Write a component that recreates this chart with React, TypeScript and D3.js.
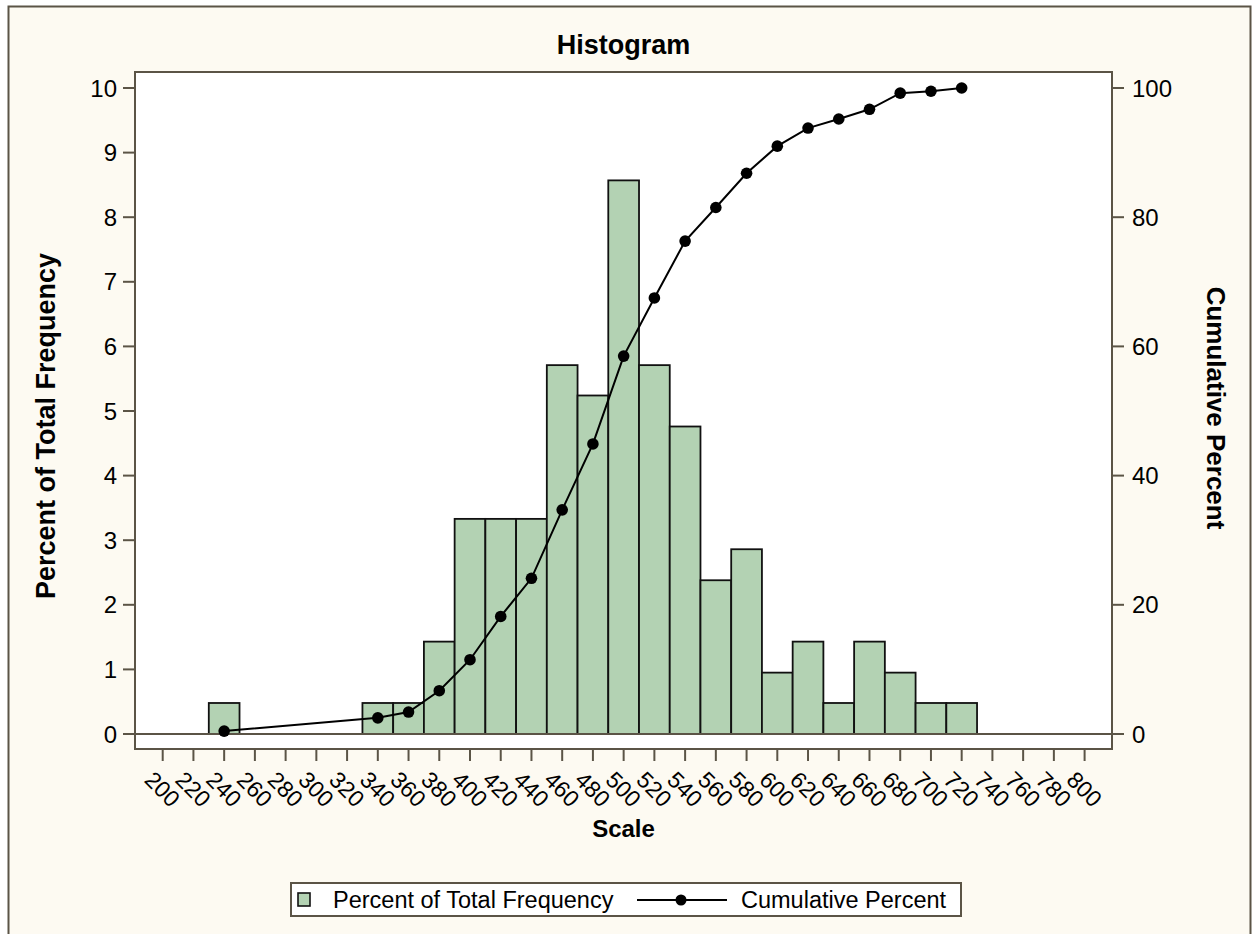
import React from "react";
import * as d3 from "d3";

const binCenters = [240, 340, 360, 380, 400, 420, 440, 460, 480, 500, 520, 540, 560, 580, 600, 620, 640, 660, 680, 700, 720];
const percentValues = [0.48, 0.48, 0.48, 1.43, 3.33, 3.33, 3.33, 5.71, 5.24, 8.57, 5.71, 4.76, 2.38, 2.86, 0.95, 1.43, 0.48, 1.43, 0.95, 0.48, 0.48];
const cumulativeValues = [0.45, 2.5, 3.4, 6.7, 11.5, 18.2, 24.1, 34.7, 44.9, 58.5, 67.5, 76.3, 81.5, 86.8, 91.0, 93.8, 95.2, 96.7, 99.2, 99.5, 100];
const xTicks = d3.range(200, 801, 20);
const leftTicks = [0, 1, 2, 3, 4, 5, 6, 7, 8, 9, 10];
const rightTicks = [0, 20, 40, 60, 80, 100];
const binWidth = 20;

const FONT = "'Liberation Sans', Arial, Helvetica, sans-serif";
const AXIS = "#5b5446";

export default function App() {
  const plot = { left: 135, top: 72, right: 1112, bottom: 749 };
  const x = d3.scaleLinear().domain([200, 800]).range([162.7, 1084.6]);
  const yL = d3.scaleLinear().domain([0, 10]).range([734, 88]);
  const yR = d3.scaleLinear().domain([0, 100]).range([734, 88]);
  const line = d3
    .line<number>()
    .x((_, i) => x(binCenters[i]))
    .y((d) => yR(d));
  const cx = (plot.left + plot.right) / 2;

  return (
    <svg
      width={1252}
      height={934}
      style={{ position: "absolute", left: 0, top: 0 }}
      fontFamily={FONT}
    >
      <rect x={8.5} y={6.5} width={1242} height={940} fill="#fdfaf2" stroke={AXIS} strokeWidth={2} />
      <text x={cx} y={54} textAnchor="middle" fontSize={27} fontWeight="bold" fill="#000">
        Histogram
      </text>
      <rect
        x={plot.left}
        y={plot.top}
        width={plot.right - plot.left}
        height={plot.bottom - plot.top}
        fill="#fff"
        stroke="none"
      />
      {binCenters.map((c, i) => (
        <rect
          key={c}
          x={x(c - binWidth / 2)}
          y={yL(percentValues[i])}
          width={x(c + binWidth / 2) - x(c - binWidth / 2)}
          height={yL(0) - yL(percentValues[i])}
          fill="#b3d2b3"
          stroke="#111"
          strokeWidth={1.8}
        />
      ))}
      <line x1={plot.left - 12} x2={plot.right + 12} y1={yL(0)} y2={yL(0)} stroke={AXIS} strokeWidth={2} />
      <rect
        x={plot.left}
        y={plot.top}
        width={plot.right - plot.left}
        height={plot.bottom - plot.top}
        fill="none"
        stroke={AXIS}
        strokeWidth={2}
      />
      <path d={line(cumulativeValues) || ""} fill="none" stroke="#000" strokeWidth={2} />
      {cumulativeValues.map((v, i) => (
        <circle key={i} cx={x(binCenters[i])} cy={yR(v)} r={5.8} fill="#000" />
      ))}
      {leftTicks.map((t) => (
        <g key={"l" + t}>
          <line x1={plot.left - 12} x2={plot.left} y1={yL(t)} y2={yL(t)} stroke={AXIS} strokeWidth={2} />
          <text x={117} y={yL(t)} dy="0.36em" textAnchor="end" fontSize={24} fill="#000">
            {t}
          </text>
        </g>
      ))}
      {rightTicks.map((t) => (
        <g key={"r" + t}>
          <line x1={plot.right} x2={plot.right + 12} y1={yR(t)} y2={yR(t)} stroke={AXIS} strokeWidth={2} />
          <text x={1132} y={yR(t)} dy="0.36em" textAnchor="start" fontSize={24} fill="#000">
            {t}
          </text>
        </g>
      ))}
      {xTicks.map((t) => (
        <g key={"x" + t}>
          <line x1={x(t)} x2={x(t)} y1={plot.bottom} y2={plot.bottom + 12} stroke={AXIS} strokeWidth={2} />
          <text
            transform={`translate(${x(t)},789) rotate(45)`}
            textAnchor="middle"
            dy="0.36em"
            fontSize={23}
            fill="#000"
          >
            {t}
          </text>
        </g>
      ))}
      <text x={cx} y={837} textAnchor="middle" fontSize={24} fontWeight="bold" fill="#000">
        Scale
      </text>
      <text
        transform={`translate(55,426) rotate(-90)`}
        textAnchor="middle"
        fontSize={27}
        fontWeight="bold"
        fill="#000"
      >
        Percent of Total Frequency
      </text>
      <text
        transform={`translate(1207,408) rotate(90)`}
        textAnchor="middle"
        fontSize={26}
        fontWeight="bold"
        fill="#000"
      >
        Cumulative Percent
      </text>
      <g>
        <rect x={291} y={883} width={670} height={33} fill="#fff" stroke={AXIS} strokeWidth={2} />
        <rect x={298} y={893} width={12} height={13} fill="#b3d2b3" stroke="#111" strokeWidth={1.6} />
        <text x={333} y={908} fontSize={23.5} fill="#000">
          Percent of Total Frequency
        </text>
        <line x1={637} x2={727} y1={900} y2={900} stroke="#000" strokeWidth={2} />
        <circle cx={681} cy={900} r={5.5} fill="#000" />
        <text x={741} y={908} fontSize={23.5} fill="#000">
          Cumulative Percent
        </text>
      </g>
    </svg>
  );
}
